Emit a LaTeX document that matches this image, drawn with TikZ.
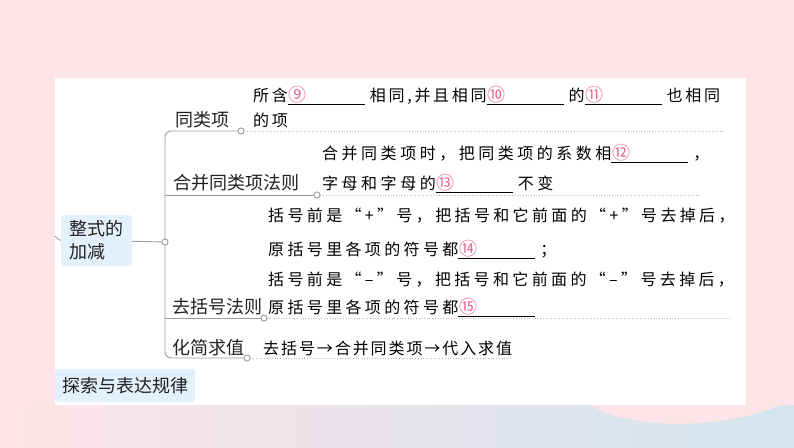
\documentclass[tikz,border=0pt]{standalone}
\usepackage{fontspec}
\usepackage {tikz}
\usetikzlibrary {positioning}
\newfontfamily\cjk{Noto Sans CJK SC}
\definecolor{bgpink}{HTML}{FDE4E8}
\definecolor{bgblue}{HTML}{D3E4EE}
\definecolor{boxblue}{HTML}{E3F1FC}
\definecolor{linegrey}{HTML}{9C9C9C}
\definecolor{dotgrey}{HTML}{B4B4B4}
\definecolor{numpink}{HTML}{E8668F}
\definecolor{ink}{HTML}{222222}
\tikzset{edge/.style = {draw=linegrey, line width=0.9pt}}
\newcommand\blank[1]{\rlap{\rule[-4pt]{77pt}{0.7pt}}\makebox[82pt][l]{\hspace{1pt}{\cjk\fontsize{18}{18}\selectfont\textcolor{numpink}{#1}}}}

\begin{document}
\begin{tikzpicture}[x=1pt, y=-1pt,
    topic/.style={fill=boxblue, rounded corners=3pt, align=left, inner sep=0pt, text=ink, font=\cjk\fontsize{18}{23}\selectfont},
    label/.style={anchor=base west, inner sep=0pt, text=ink, font=\cjk\fontsize{18}{20}\selectfont},
    body/.style={anchor=base west, inner sep=0pt, font=\cjk\fontsize{16}{18}\selectfont\addfontfeature{LetterSpace=#1}},
    knot/.style={circle, draw=linegrey, fill=white, line width=0.8pt, inner sep=0pt, minimum size=6},
    leader/.style={draw=dotgrey, dotted, line width=0.7pt}]
    \useasboundingbox (0,0) rectangle (794,447);
    \fill[bgpink] (0,0) rectangle (794,447);
    \shade[left color=bgpink, right color=bgblue] (0,405) rectangle (794,447);
    \fill[bgpink] (590,405) .. controls (630,430) and (730,432) .. (794,399) -- (794,405) -- cycle;
    \fill[white] (55,78) rectangle (746,405);

    \node[topic, minimum width=71, minimum height=51] (root) at (96.5,240.5) {整式的\\加减};
    \node[topic, minimum width=140, minimum height=33] (rule) at (125,385.5) {探索与表达规律};

    \coordinate (stub) at (55,236);
    \coordinate (btop) at (165,131);
    \coordinate (bbot) at (165,358);
    \coordinate (j2) at (165,195);
    \coordinate (j3) at (165,318);
    \coordinate (e1) at (723,131);
    \coordinate (e2) at (701,195);
    \coordinate (e3) at (730,318);
    \coordinate (e4) at (510,358);

    \node[knot] (k0) at (165,242) {};
    \node[knot] (k1) at (241,131) {};
    \node[knot] (k2) at (317,195) {};
    \node[knot] (k3) at (264,318) {};
    \node[knot] (k4) at (247,358) {};

    \path[edge] (stub) to[out=-40, in=180] (root.west);
    \path[edge] (root) -- (k0);
    \path[edge, rounded corners=6] (k1) -- (btop) -- (bbot) -- (k4);
    \path[edge] (j2) -- (k2);
    \path[edge] (j3) -- (k3);
    \path[leader] (k1) -- (e1);
    \path[leader] (k2) -- (e2);
    \path[leader] (k3) -- (e3);
    \path[leader] (k4) -- (e4);
    \foreach \k in {k0,k1,k2,k3,k4} \node[knot] at (\k) {};

    \node[label] (l1) at (175,126) {同类项};
    \node[label] (l2) at (173,189) {合并同类项法则};
    \node[label] (l3) at (172,313) {去括号法则};
    \node[label] (l4) at (172,354) {化简求值};

    \node[body=17] (t11) at (253,101) {所含\blank{⑨}相同,并且相同\blank{⑩}的\blank{⑪}也相同};
    \node[body=17] (t12) at (253,126) {的项};
    \node[body=22] (t21) at (322,159) {合并同类项时，把同类项的系数相\blank{⑫}，};
    \node[body=22] (t22) at (322,189) {字母和字母的\blank{⑬}不变};
    \node[body=21] (t31) at (268,221) {括号前是“+”号，把括号和它前面的“+”号去掉后，};
    \node[body=21] (t32) at (268,255) {原括号里各项的符号都\blank{⑭}；};
    \node[body=21] (t33) at (268,285) {括号前是“–”号，把括号和它前面的“–”号去掉后，};
    \node[body=21] (t34) at (268,313) {原括号里各项的符号都\blank{⑮}};
    \node[body=12] (t41) at (263,354) {去括号→合并同类项→代入求值};
\end{tikzpicture}
\end{document}
